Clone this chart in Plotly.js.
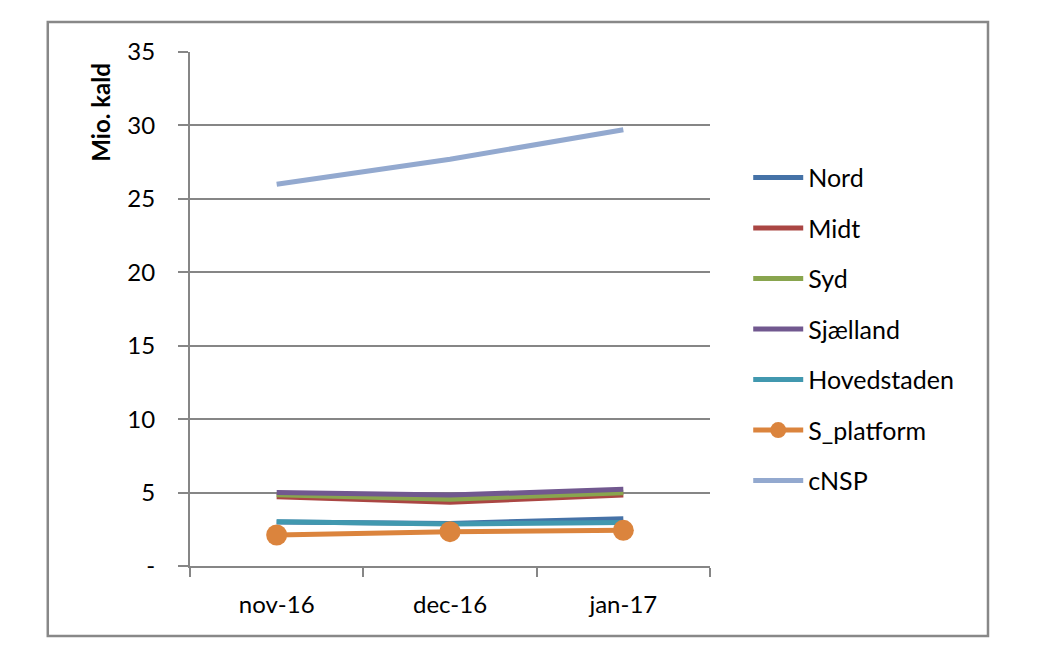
<!DOCTYPE html>
<html>
<head>
<meta charset="utf-8">
<script src="https://cdn.plot.ly/plotly-3.0.1.min.js"></script>
<style>html,body{margin:0;padding:0;background:#fff;}#chart{width:1039px;height:668px;}</style>
</head>
<body>
<div id="chart"></div>
<script>
const categories = ["nov-16", "dec-16", "jan-17"];
const seriesNames = ["Nord", "Midt", "Syd", "Sjælland", "Hovedstaden", "S_platform", "cNSP"];
const nord = [3.0, 2.9, 3.22];
const midt = [4.72, 4.34, 4.83];
const syd = [4.85, 4.54, 4.99];
const sjaelland = [5.0, 4.83, 5.22];
const hovedstaden = [3.02, 2.86, 2.97];
const sPlatform = [2.11, 2.34, 2.43];
const cnsp = [26.0, 27.7, 29.7];
const colors = ["#4572A7", "#AA4643", "#89A54E", "#71588F", "#4198AF", "#DB843D", "#93A9CF"];
const yTickVals = [0, 5, 10, 15, 20, 25, 30, 35];
const yTickText = ["-", "5", "10", "15", "20", "25", "30", "35"];
const yTitle = "Mio. kald";

const allValues = [nord, midt, syd, sjaelland, hovedstaden, sPlatform, cnsp];
const font = "Lato, 'Open Sans', sans-serif";

const traces = allValues.map((vals, i) => ({
  type: "scatter",
  x: categories,
  y: vals,
  name: seriesNames[i],
  legendgroup: "g" + i,
  mode: seriesNames[i] === "S_platform" ? "lines+markers" : "lines",
  line: {color: colors[i], width: 5},
  marker: {color: colors[i], size: 21}
}));

const layout = {
  width: 1039,
  height: 668,
  margin: {l: 190, r: 329, t: 52, b: 102},
  paper_bgcolor: "#fff",
  plot_bgcolor: "#fff",
  font: {family: font, size: 24, color: "#000"},
  showlegend: true,
  legend: {
    x: 1.0735, xanchor: "left", y: 0.80, yanchor: "top",
    font: {family: font, size: 25, color: "#000"},
    traceorder: "grouped",
    tracegroupgap: 15,
    itemwidth: 50,
    bgcolor: "rgba(0,0,0,0)"
  },
  xaxis: {
    type: "category",
    range: [-0.5, 2.5],
    tickson: "boundaries",
    ticks: "outside",
    ticklen: 9,
    tickwidth: 2,
    tickcolor: "#868686",
    showline: true,
    linecolor: "#868686",
    linewidth: 2,
    showgrid: false,
    zeroline: false,
    tickfont: {family: font, size: 24, color: "#000"},
    ticklabelstandoff: 16
  },
  yaxis: {
    range: [0, 35],
    tickvals: yTickVals,
    ticktext: yTickText,
    ticks: "outside",
    ticklen: 10,
    tickwidth: 2,
    tickcolor: "#868686",
    showline: true,
    linecolor: "#868686",
    linewidth: 2,
    showgrid: true,
    gridcolor: "#868686",
    gridwidth: 2,
    zeroline: false,
    tickfont: {family: font, size: 24, color: "#000"},
    ticklabelstandoff: 18
  },
  annotations: [{
    text: yTitle, xref: "paper", yref: "paper",
    x: -0.172, y: 0.883, xanchor: "center", yanchor: "middle",
    textangle: -90, showarrow: false,
    font: {family: font, size: 24, color: "#000", weight: "bold"}
  }],
  shapes: [{
    type: "rect", xref: "paper", yref: "paper",
    x0: -0.2735, x1: 1.5346, y0: -0.136, y1: 1.0584,
    line: {color: "#888888", width: 2.5}, fillcolor: "rgba(0,0,0,0)", layer: "below"
  }]
};

Plotly.newPlot("chart", traces, layout, {displayModeBar: false, staticPlot: true});
</script>
</body>
</html>
